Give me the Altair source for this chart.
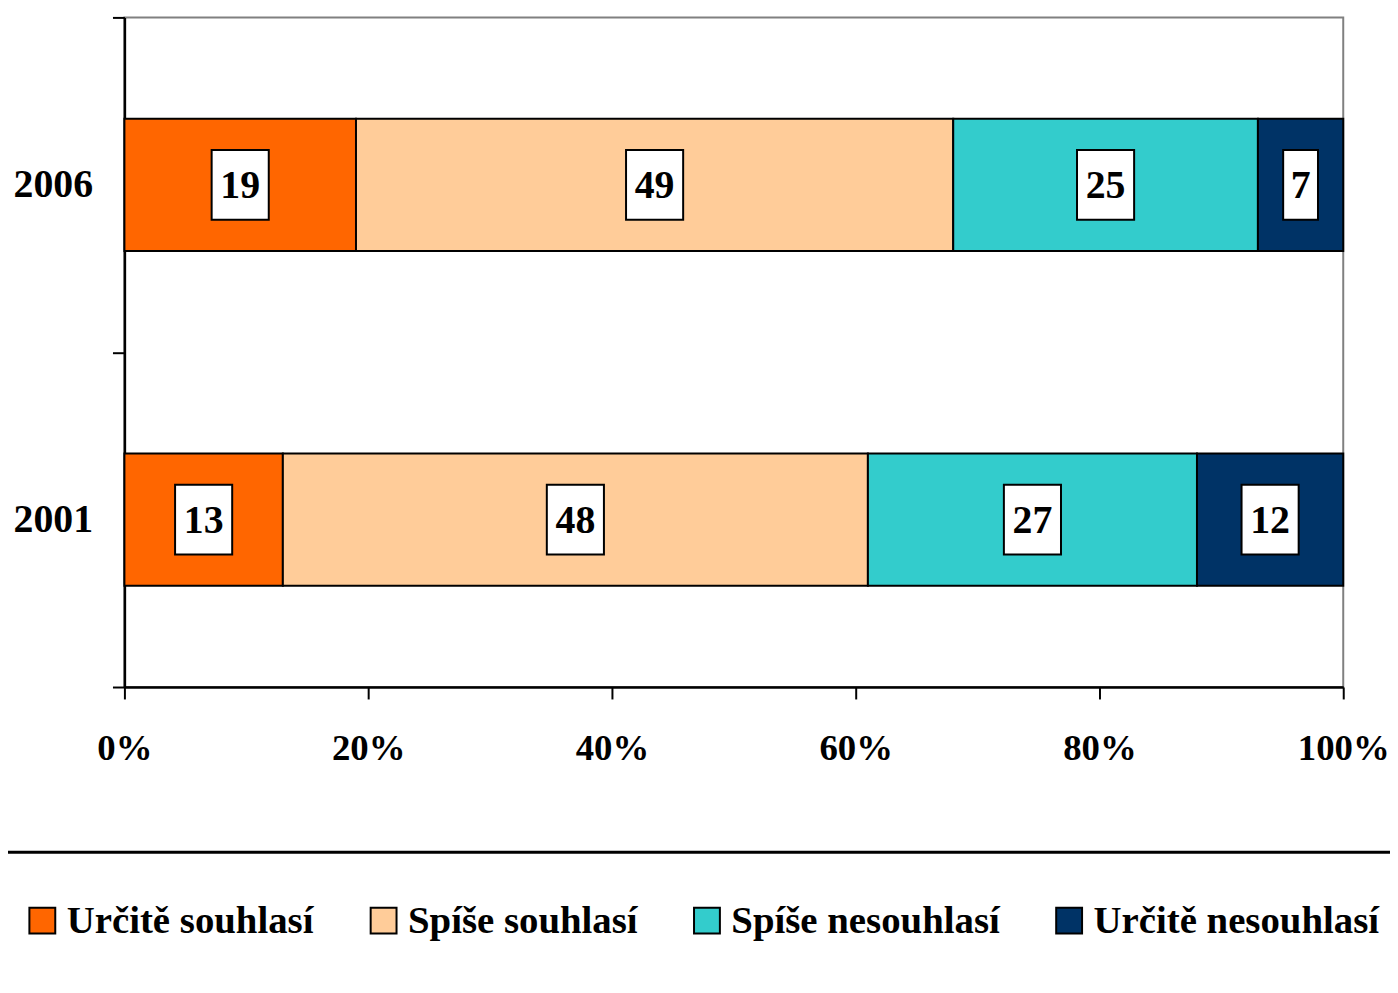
import altair as alt
import pandas as pd

years = ["2006", "2001"]
categories = ["Určitě souhlasí", "Spíše souhlasí", "Spíše nesouhlasí", "Určitě nesouhlasí"]
colors = ["#FF6600", "#FFCC99", "#33CCCC", "#003366"]
values_2006 = [19, 49, 25, 7]
values_2001 = [13, 48, 27, 12]
x_ticks = [0, 20, 40, 60, 80, 100]

rows = []
for year, vals in (("2006", values_2006), ("2001", values_2001)):
    for i, (cat, v) in enumerate(zip(categories, vals)):
        rows.append({"year": year, "category": cat, "value": v, "idx": i})
df = pd.DataFrame(rows)

FONT = "Liberation Serif"

y_scale = alt.Scale(paddingInner=0, paddingOuter=0)

y_enc = alt.Y(
    "year:N",
    sort=years,
    scale=y_scale,
    axis=alt.Axis(
        title=None,
        tickBand="extent",
        labelFont=FONT,
        labelFontSize=40,
        labelFontWeight="bold",
        labelColor="black",
        labelPadding=20,
        labelAngle=0,
        domainColor="black",
        domainWidth=2.5,
        tickColor="black",
        tickWidth=2,
        tickSize=12,
        grid=False,
    ),
)

x_scale = alt.Scale(domain=[0, 100], nice=False)

base = alt.Chart(df)

bars = base.mark_bar(
    stroke="black", strokeWidth=2, height=alt.RelativeBandSize(band=0.395)
).encode(
    y=y_enc,
    x=alt.X(
        "value:Q",
        stack="zero",
        scale=x_scale,
        axis=alt.Axis(
            title=None,
            values=x_ticks,
            labelExpr="datum.value + '%'",
            labelFont=FONT,
            labelFontSize=37,
            labelFontWeight="bold",
            labelColor="black",
            labelPadding=32,
            labelFlush=False,
            labelOverlap=False,
            domainColor="black",
            domainWidth=2.5,
            tickColor="black",
            tickWidth=2,
            tickSize=12,
            grid=False,
        ),
    ),
    color=alt.Color(
        "category:N",
        sort=categories,
        scale=alt.Scale(domain=categories, range=colors),
        legend=alt.Legend(
            title=None,
            orient="none",
            legendX=-102,
            legendY=888,
            direction="horizontal",
            columns=4,
            symbolType="square",
            symbolSize=676,
            symbolStrokeColor="black",
            symbolStrokeWidth=2,
            symbolOpacity=1,
            labelFont=FONT,
            labelFontSize=39,
            labelFontWeight="bold",
            labelColor="black",
            labelOffset=5,
            labelLimit=600,
            columnPadding=50,
            padding=0,
        ),
    ),
    order=alt.Order("idx:Q"),
)

stacked = base.transform_stack(
    stack="value", as_=["x0", "x1"], groupby=["year"], sort=[alt.SortField("idx")]
).transform_calculate(mid="(datum.x0 + datum.x1) / 2")

wide_box = "M-0.82,-1L0.82,-1L0.82,1L-0.82,1Z"
narrow_box = "M-0.5,-1L0.5,-1L0.5,1L-0.5,1Z"

boxes = stacked.mark_point(
    filled=True, fill="white", stroke="black", strokeWidth=2, opacity=1, size=4900
).encode(
    y=alt.Y("year:N", sort=years, scale=y_scale),
    x=alt.X("mid:Q", scale=x_scale),
    shape=alt.condition("datum.value < 10", alt.value(narrow_box), alt.value(wide_box)),
)

labels = stacked.mark_text(
    font=FONT, fontSize=40, fontWeight="bold", color="black", baseline="middle", dy=1
).encode(
    y=alt.Y("year:N", sort=years, scale=y_scale),
    x=alt.X("mid:Q", scale=x_scale),
    text=alt.Text("value:Q"),
)

rule = alt.Chart(pd.DataFrame({"r": [0]})).mark_rule(color="black", strokeWidth=3).encode(
    x=alt.value(-130), x2=alt.value(1300), y=alt.value(839)
)

chart = alt.layer(bars, boxes, labels, rule).properties(
    width=1225,
    height=673,
    padding={"left": 117, "top": 7, "right": 47, "bottom": 290},
    autosize=alt.AutoSizeParams(type="none"),
    background="white",
).configure_view(stroke="#808080", strokeWidth=2)

chart.save("out.html", embed_options={"renderer": "svg", "actions": False})
